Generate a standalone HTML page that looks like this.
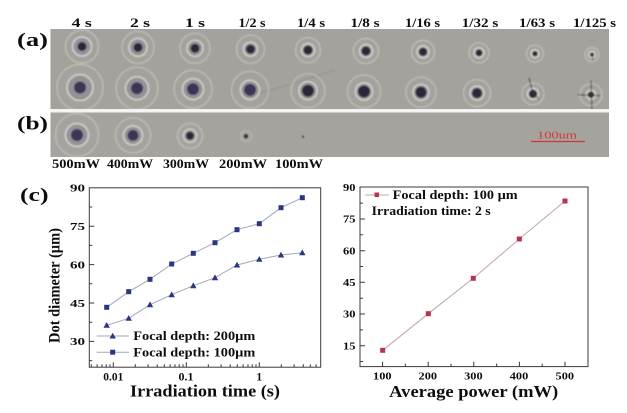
<!DOCTYPE html>
<html><head><meta charset="utf-8"><style>
html,body{margin:0;padding:0;background:#fff;}
svg{display:block;}
text{font-family:"Liberation Serif",serif;font-weight:bold;fill:#111;}
.o{fill:none;stroke:#cdcbc6;stroke-width:1.2;opacity:.75}
.i{fill:#959297;stroke:#d2d0cb;stroke-width:1.7}
.d{fill:#2e2838}
.d2{fill:#3e3654}
</style></head><body>
<svg width="627" height="413" viewBox="0 0 627 413" xmlns="http://www.w3.org/2000/svg">
<defs>
<filter id="bl" x="-5%" y="-5%" width="110%" height="110%"><feGaussianBlur stdDeviation="0.8"/></filter>
<filter id="soft" x="0" y="0" width="100%" height="100%"><feGaussianBlur stdDeviation="0.3"/></filter>
</defs>
<rect width="627" height="413" fill="#fff"/>
<g filter="url(#soft)">
<!-- top labels -->
<g font-size="13" text-anchor="middle">
<text x="81.7" y="27" textLength="20" lengthAdjust="spacingAndGlyphs">4 s</text>
<text x="140" y="27" textLength="20" lengthAdjust="spacingAndGlyphs">2 s</text>
<text x="195" y="27" textLength="20" lengthAdjust="spacingAndGlyphs">1 s</text>
<text x="252" y="27" textLength="27" lengthAdjust="spacingAndGlyphs">1/2 s</text>
<text x="311" y="27" textLength="28" lengthAdjust="spacingAndGlyphs">1/4 s</text>
<text x="365" y="27" textLength="29" lengthAdjust="spacingAndGlyphs">1/8 s</text>
<text x="422.5" y="27" textLength="35" lengthAdjust="spacingAndGlyphs">1/16 s</text>
<text x="480" y="27" textLength="36.5" lengthAdjust="spacingAndGlyphs">1/32 s</text>
<text x="537" y="27" textLength="36" lengthAdjust="spacingAndGlyphs">1/63 s</text>
<text x="594.5" y="27" textLength="43" lengthAdjust="spacingAndGlyphs">1/125 s</text>
</g>
<text x="17" y="46" font-size="19" textLength="31" lengthAdjust="spacingAndGlyphs">(a)</text>
<text x="17" y="129.5" font-size="19" textLength="31" lengthAdjust="spacingAndGlyphs">(b)</text>

<!-- photo panels -->
<rect x="50.5" y="29" width="558.5" height="80" fill="#a4a29d"/>
<rect x="50.5" y="112.5" width="558.5" height="44.5" fill="#a5a39e"/>
<g filter="url(#bl)">
<path d="M250 96 Q300 82 335 70" stroke="#97958f" stroke-width="1.2" fill="none"/>
<!-- row 1 -->
<g transform="translate(82,46.5)"><circle class="o" r="16.5"/><circle class="i" r="9.5"/><circle class="d" r="4.5"/></g>
<g transform="translate(138,47.4)"><circle class="o" r="16"/><circle class="i" r="9"/><circle class="d" r="4.5"/></g>
<g transform="translate(195,48.3)"><circle class="o" r="15"/><circle class="i" r="8"/><circle class="d" r="4.5"/></g>
<g transform="translate(250.5,49.2)"><circle class="o" r="14"/><circle class="i" r="7"/><circle class="d" r="4.5"/></g>
<g transform="translate(308,50.1)"><circle class="o" r="12.5"/><circle class="i" r="6.5"/><circle class="d" r="4.5"/></g>
<g transform="translate(366,51)"><circle class="o" r="12.5"/><circle class="i" r="6.5"/><circle class="d" r="4.5"/></g>
<g transform="translate(423,51.9)"><circle class="o" r="11.5"/><circle class="i" r="6"/><circle class="d" r="4"/></g>
<g transform="translate(479,52.8)"><circle class="o" r="10"/><circle class="i" r="5"/><circle class="d" r="3.3"/></g>
<g transform="translate(535,53.7)"><circle class="o" r="8.5"/><circle class="i" r="4"/><circle class="d" r="2.5"/></g>
<g transform="translate(592,54.6)"><circle class="o" r="7"/><circle class="i" r="3.3"/><circle class="d" r="1.8"/><path d="M0 0 L1 6" stroke="#333" stroke-width="0.8"/></g>
<!-- row 2 -->
<g transform="translate(80,87.5)"><circle class="o" r="23"/><circle class="i" r="13"/><circle class="d2" r="6"/></g>
<g transform="translate(137,88.3)"><circle class="o" r="21"/><circle class="i" r="11.5"/><circle class="d2" r="6"/></g>
<g transform="translate(193,89.1)"><circle class="o" r="19"/><circle class="i" r="10.5"/><circle class="d2" r="6"/></g>
<g transform="translate(250,89.9)"><circle class="o" r="18.5"/><circle class="i" r="9.5"/><circle class="d2" r="6"/></g>
<g transform="translate(308,90.7)"><circle class="o" r="17"/><circle class="i" r="9"/><circle class="d" r="6"/></g>
<g transform="translate(364,91.5)"><circle class="o" r="16.5"/><circle class="i" r="8.5"/><circle class="d" r="6"/></g>
<g transform="translate(421,92.3)"><circle class="o" r="15"/><circle class="i" r="8"/><circle class="d" r="5.5"/></g>
<g transform="translate(477,93.1)"><circle class="o" r="13.5"/><circle class="i" r="7"/><circle class="d" r="5"/></g>
<g transform="translate(533,93.9)"><circle class="o" r="11"/><circle class="i" r="5.5"/><circle class="d" r="4"/><path d="M0 0 L-4 -16 M0 0 L6 5" stroke="#333" stroke-width="0.8" fill="none"/></g>
<g transform="translate(591,94.7)"><circle class="o" r="11"/><circle class="i" r="4.5"/><circle class="d" r="3"/><path d="M0 -14 L1 15 M-13 0 L9 1" stroke="#333" stroke-width="0.8" fill="none"/></g>
<!-- row b -->
<g transform="translate(77,135)"><circle class="o" r="21.5"/><circle class="i" r="11.5"/><circle class="d2" r="6"/></g>
<g transform="translate(133,135.4)"><circle class="o" r="17.5"/><circle class="i" r="9.5"/><circle class="d2" r="5.5"/></g>
<g transform="translate(190,135.8)"><circle class="o" r="12.5"/><circle class="i" r="6.5"/><circle class="d" r="4"/></g>
<g transform="translate(246,136.2)"><circle class="o" r="5.5" style="opacity:.5"/><circle class="d" r="2"/></g>
<g transform="translate(303,136.6)"><circle class="d" r="1"/></g>
</g>
<rect x="50.5" y="109" width="558.5" height="3.5" fill="#f4f4f2"/>
<line x1="531" y1="141.5" x2="585" y2="141.5" stroke="#d03535" stroke-width="1.3"/>
<text x="557" y="138.5" font-size="10" text-anchor="middle" style="fill:#d23a3a;font-weight:normal" textLength="40" lengthAdjust="spacingAndGlyphs">100um</text>

<!-- b labels -->
<g font-size="12.5" text-anchor="middle">
<text x="76" y="168" textLength="48" lengthAdjust="spacingAndGlyphs">500mW</text>
<text x="130" y="168" textLength="46" lengthAdjust="spacingAndGlyphs">400mW</text>
<text x="186" y="168" textLength="46" lengthAdjust="spacingAndGlyphs">300mW</text>
<text x="243" y="168" textLength="48" lengthAdjust="spacingAndGlyphs">200mW</text>
<text x="299" y="168" textLength="48" lengthAdjust="spacingAndGlyphs">100mW</text>
</g>

<text x="20" y="201" font-size="19" textLength="28.5" lengthAdjust="spacingAndGlyphs">(c)</text>

<!-- LEFT CHART -->
<rect x="89.3" y="187.8" width="231.4" height="179.4" fill="none" stroke="#3a3a3a" stroke-width="1"/>
<path d="M89.3 226.2h5M89.3 264.6h5M89.3 303h5M89.3 341.4h5M89.3 207h3M89.3 245.4h3M89.3 283.8h3M89.3 322.2h3M89.3 360.6h3" stroke="#3a3a3a" stroke-width="1"/>
<path d="M113.3 367.2v-5M186.3 367.2v-5M259.3 367.2v-5M91.3 367.2v-3M97.1 367.2v-3M102 367.2v-3M106.2 367.2v-3M110 367.2v-3M135.3 367.2v-3M148.1 367.2v-3M157.2 367.2v-3M164.3 367.2v-3M170.1 367.2v-3M175 367.2v-3M179.2 367.2v-3M183 367.2v-3M208.3 367.2v-3M221.1 367.2v-3M230.2 367.2v-3M237.3 367.2v-3M243.1 367.2v-3M248 367.2v-3M252.2 367.2v-3M256 367.2v-3M281.3 367.2v-3M294.1 367.2v-3M303.3 367.2v-3M310.3 367.2v-3M316.1 367.2v-3" stroke="#3a3a3a" stroke-width="1"/>
<g font-size="11" text-anchor="end">
<text x="85" y="191.6" textLength="15" lengthAdjust="spacingAndGlyphs">90</text>
<text x="85" y="230" textLength="15" lengthAdjust="spacingAndGlyphs">75</text>
<text x="85" y="268.4" textLength="15" lengthAdjust="spacingAndGlyphs">60</text>
<text x="85" y="306.8" textLength="15" lengthAdjust="spacingAndGlyphs">45</text>
<text x="85" y="345.2" textLength="15" lengthAdjust="spacingAndGlyphs">30</text>
</g>
<g font-size="11.5" text-anchor="middle">
<text x="113.3" y="380.5" textLength="20" lengthAdjust="spacingAndGlyphs">0.01</text>
<text x="186" y="380.5" textLength="15" lengthAdjust="spacingAndGlyphs">0.1</text>
<text x="259.3" y="380.5">1</text>
</g>
<text x="205" y="396.5" font-size="17" text-anchor="middle" textLength="150" lengthAdjust="spacingAndGlyphs">Irradiation time (s)</text>
<text transform="translate(59.5,285.5) rotate(-90)" font-size="15.5" text-anchor="middle" textLength="115" lengthAdjust="spacingAndGlyphs">Dot diameter (µm)</text>

<polyline fill="none" stroke="#a2a6ba" stroke-width="1" points="106.7,307.3 128.7,291.7 150,279.3 171.7,264 193.3,253.3 215,242.7 237,229.7 259.3,223.7 281,207.7 302.3,197.7"/>
<polyline fill="none" stroke="#a2a6ba" stroke-width="1" points="106.7,325.3 128.7,318.3 150,304.7 171.7,294.7 193.3,285.7 215,277.7 237,265 259.3,259.3 281,255 302.3,252.7"/>
<g fill="#2b3585">
<rect x="104.2" y="304.8" width="5" height="5"/><rect x="126.2" y="289.2" width="5" height="5"/><rect x="147.5" y="276.8" width="5" height="5"/><rect x="169.2" y="261.5" width="5" height="5"/><rect x="190.8" y="250.8" width="5" height="5"/><rect x="212.5" y="240.2" width="5" height="5"/><rect x="234.5" y="227.2" width="5" height="5"/><rect x="256.8" y="221.2" width="5" height="5"/><rect x="278.5" y="205.2" width="5" height="5"/><rect x="299.8" y="195.2" width="5" height="5"/>
<path d="M106.7 322l-3.2 5.8h6.4zM128.7 315l-3.2 5.8h6.4zM150 301.4l-3.2 5.8h6.4zM171.7 291.4l-3.2 5.8h6.4zM193.3 282.4l-3.2 5.8h6.4zM215 274.4l-3.2 5.8h6.4zM237 261.7l-3.2 5.8h6.4zM259.3 256l-3.2 5.8h6.4zM281 251.7l-3.2 5.8h6.4zM302.3 249.4l-3.2 5.8h6.4z"/>
</g>
<!-- left legend -->
<line x1="96.7" y1="336" x2="129" y2="336" stroke="#a2a6ba" stroke-width="1"/>
<path d="M112.7 332.7l-3.2 5.8h6.4z" fill="#2b3585"/>
<line x1="96.7" y1="352.2" x2="129" y2="352.2" stroke="#a2a6ba" stroke-width="1"/>
<rect x="110.2" y="349.7" width="5" height="5" fill="#2b3585"/>
<text x="133.3" y="340.2" font-size="12.5" textLength="122" lengthAdjust="spacingAndGlyphs">Focal depth: 200µm</text>
<text x="133.3" y="356.5" font-size="12.5" textLength="122" lengthAdjust="spacingAndGlyphs">Focal depth: 100µm</text>

<!-- RIGHT CHART -->
<rect x="360" y="187" width="228" height="179.6" fill="none" stroke="#3a3a3a" stroke-width="1"/>
<path d="M360 219h5M360 250.7h5M360 282.3h5M360 314h5M360 345.7h5M360 203.1h3M360 234.8h3M360 266.5h3M360 298.2h3M360 329.9h3M360 361.5h3" stroke="#3a3a3a" stroke-width="1"/>
<path d="M382.6 366.6v-5M428.2 366.6v-5M473.8 366.6v-5M519.4 366.6v-5M565 366.6v-5M405.4 366.6v-3M451 366.6v-3M496.6 366.6v-3M542.2 366.6v-3" stroke="#3a3a3a" stroke-width="1"/>
<g font-size="10.5" text-anchor="end">
<text x="355.5" y="190.9" textLength="12.5" lengthAdjust="spacingAndGlyphs">90</text>
<text x="355.5" y="222.6" textLength="12.5" lengthAdjust="spacingAndGlyphs">75</text>
<text x="355.5" y="254.3" textLength="12.5" lengthAdjust="spacingAndGlyphs">60</text>
<text x="355.5" y="285.9" textLength="12.5" lengthAdjust="spacingAndGlyphs">45</text>
<text x="355.5" y="317.6" textLength="12.5" lengthAdjust="spacingAndGlyphs">30</text>
<text x="355.5" y="349.3" textLength="12.5" lengthAdjust="spacingAndGlyphs">15</text>
</g>
<g font-size="11" text-anchor="middle">
<text x="382.3" y="379.5" textLength="18.5" lengthAdjust="spacingAndGlyphs">100</text>
<text x="427.8" y="379.5" textLength="18.5" lengthAdjust="spacingAndGlyphs">200</text>
<text x="473.4" y="379.5" textLength="18.5" lengthAdjust="spacingAndGlyphs">300</text>
<text x="519" y="379.5" textLength="18.5" lengthAdjust="spacingAndGlyphs">400</text>
<text x="564.8" y="379.5" textLength="18.5" lengthAdjust="spacingAndGlyphs">500</text>
</g>
<text x="473.7" y="397" font-size="17" text-anchor="middle" textLength="169" lengthAdjust="spacingAndGlyphs">Average power (mW)</text>
<polyline fill="none" stroke="#c2a4a9" stroke-width="1" points="382.7,350.3 428.3,313.7 473.3,278.3 519.3,239 565,201"/>
<g fill="#b8304e">
<rect x="380.2" y="347.8" width="5" height="5"/><rect x="425.8" y="311.2" width="5" height="5"/><rect x="470.8" y="275.8" width="5" height="5"/><rect x="516.8" y="236.5" width="5" height="5"/><rect x="562.5" y="198.5" width="5" height="5"/>
</g>
<line x1="365" y1="195" x2="389" y2="195" stroke="#c2a4a9" stroke-width="1"/>
<rect x="374.5" y="192.5" width="4.5" height="4.5" fill="#b8304e"/>
<text x="392.7" y="199" font-size="12.5" textLength="125" lengthAdjust="spacingAndGlyphs">Focal depth: 100 µm</text>
<text x="371.7" y="215" font-size="12.5" textLength="119" lengthAdjust="spacingAndGlyphs">Irradiation time: 2 s</text>
</g>
</svg>
</body></html>
